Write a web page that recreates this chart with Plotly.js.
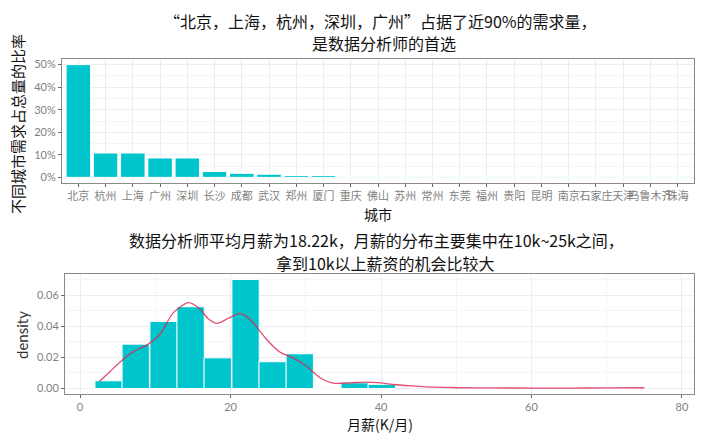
<!DOCTYPE html>
<html>
<head>
<meta charset="utf-8">
<script src="https://cdn.plot.ly/plotly-3.0.1.min.js"></script>
<style>
  html, body { margin: 0; padding: 0; background: #fff; }
  #chart { width: 720px; height: 446px; }
</style>
</head>
<body>
<div id="chart"></div>
<script>
// 城市需求占比（%）
const cities = ['北京', '杭州', '上海', '广州', '深圳', '长沙', '成都', '武汉', '郑州', '厦门',
  '重庆', '佛山', '苏州', '常州', '东莞', '福州', '贵阳', '昆明', '南京', '石家庄', '天津', '乌鲁木齐', '珠海'];
const cityShare = [50.0, 10.8, 10.8, 8.6, 8.6, 2.6, 1.8, 1.4, 0.8, 0.8,
  0.3, 0.3, 0.25, 0.25, 0.25, 0.25, 0.25, 0.25, 0.25, 0.25, 0.25, 0.25, 0.25];
const shareTicks = [0, 10, 20, 30, 40, 50];

// 月薪直方图（K/月）
const binWidth = 3.63;
const binCenters = [3.8, 7.4, 11.1, 14.7, 18.3, 22.0, 25.6, 29.2, 32.9, 36.5, 40.1];
const binDensity = [0.005, 0.0285, 0.043, 0.0525, 0.0197, 0.070, 0.0172, 0.0223, 0.0004, 0.0037, 0.0027];

// 密度曲线
const densX = [2.6, 4.0, 5.7, 7.2, 8.8, 10.6, 12.4, 14.4, 15.9, 17.0, 18.2, 19.9, 21.2, 22.2, 23.0,
  24.8, 26.6, 28.3, 30.1, 31.9, 33.6, 35.9, 38.0, 39.5, 41.6, 44.0, 46.0, 50.5, 55.0, 60.0, 65.0, 70.0, 75.0];
const densY = [0.0047, 0.011, 0.0187, 0.024, 0.0277, 0.0347, 0.0487, 0.0551, 0.0512, 0.045, 0.0418, 0.0455, 0.0482, 0.046, 0.0422,
  0.0315, 0.0233, 0.0197, 0.0143, 0.0069, 0.0035, 0.0037, 0.0041, 0.0038, 0.0026, 0.0017, 0.0011, 0.0005, 0.0004, 0.0003, 0.0003, 0.0004, 0.0005];

const BAR = '#00c5cd';
const GRID = '#ececf2';
const GRID_MINOR = '#f5f5f8';
const TICKFONT = { family: 'Lato, "Noto Sans CJK SC", sans-serif', size: 11, color: '#7f7f7f' };
const CJK = '"Noto Sans CJK SC", sans-serif';

const traces = [
  {
    type: 'bar',
    x: cities,
    y: cityShare,
    xaxis: 'x', yaxis: 'y',
    marker: { color: BAR, line: { color: '#ffffff', width: 1 } }
  },
  {
    type: 'bar',
    x: binCenters,
    y: binDensity,
    width: binCenters.map(() => binWidth),
    xaxis: 'x2', yaxis: 'y2',
    marker: { color: BAR, line: { color: '#ffffff', width: 1 } }
  },
  {
    type: 'scatter',
    mode: 'lines',
    x: densX,
    y: densY,
    xaxis: 'x2', yaxis: 'y2',
    line: { color: 'rgba(222,34,78,0.8)', width: 1.3, shape: 'spline', smoothing: 0.7 }
  }
];

const axisBase = {
  showline: true, mirror: true, linecolor: '#8a8a8a', linewidth: 1,
  ticks: 'outside', ticklen: 3, tickcolor: '#666', tickfont: TICKFONT,
  gridcolor: GRID, zeroline: false, fixedrange: true
};

function label(text, x, y, size, extra) {
  return Object.assign({
    text: text, xref: 'paper', yref: 'paper', x: x / 720, y: 1 - y / 446,
    xanchor: 'center', yanchor: 'middle', showarrow: false,
    font: { family: CJK, size: size, color: '#111' }
  }, extra || {});
}

const layout = {
  width: 720, height: 446,
  margin: { l: 0, r: 0, t: 0, b: 0 },
  paper_bgcolor: '#fff', plot_bgcolor: '#fff',
  showlegend: false,
  bargap: 0.1,
  xaxis: Object.assign({}, axisBase, {
    domain: [62 / 720, 694 / 720], anchor: 'y',
    type: 'category', range: [-0.6, 22.6], showgrid: true, tickangle: 0
  }),
  yaxis: Object.assign({}, axisBase, {
    domain: [1 - 183 / 446, 1 - 59 / 446], anchor: 'x',
    range: [-2.5, 52.5], tickmode: 'array', tickvals: shareTicks,
    ticktext: shareTicks.map(v => v + '%'),
    minor: { tickvals: [5, 15, 25, 35, 45], showgrid: true, gridcolor: GRID_MINOR, ticklen: 0 }
  }),
  xaxis2: Object.assign({}, axisBase, {
    domain: [65 / 720, 694 / 720], anchor: 'y2',
    range: [-2, 81.6], tickvals: [0, 20, 40, 60, 80],
    minor: { tickvals: [10, 30, 50, 70], showgrid: true, gridcolor: GRID_MINOR, ticklen: 0 }
  }),
  yaxis2: Object.assign({}, axisBase, {
    domain: [1 - 394 / 446, 1 - 274 / 446], anchor: 'x2',
    range: [-0.0035, 0.0735], tickvals: [0, 0.02, 0.04, 0.06], tickformat: '.2f',
    minor: { tickvals: [0.01, 0.03, 0.05, 0.07], showgrid: true, gridcolor: GRID_MINOR, ticklen: 0 }
  }),
  annotations: [
    label('“北京，上海，杭州，深圳，广州”占据了近90%的需求量，', 380, 21, 16),
    label('是数据分析师的首选', 384, 43, 16),
    label('数据分析师平均月薪为18.22k，月薪的分布主要集中在10k~25k之间，', 376, 240.5, 16),
    label('拿到10k以上薪资的机会比较大', 385, 263, 16),
    label('不同城市需求占总量的比率', 17, 124, 15, { textangle: -90 }),
    label('城市', 378, 214, 14),
    label('density', 22, 335, 15, { textangle: -90, font: { family: 'Lato, sans-serif', size: 15, color: '#333' } }),
    label('月薪(K/月)', 380, 424, 14)
  ]
};

Plotly.newPlot('chart', traces, layout, { displayModeBar: false, staticPlot: true });
</script>
</body>
</html>
